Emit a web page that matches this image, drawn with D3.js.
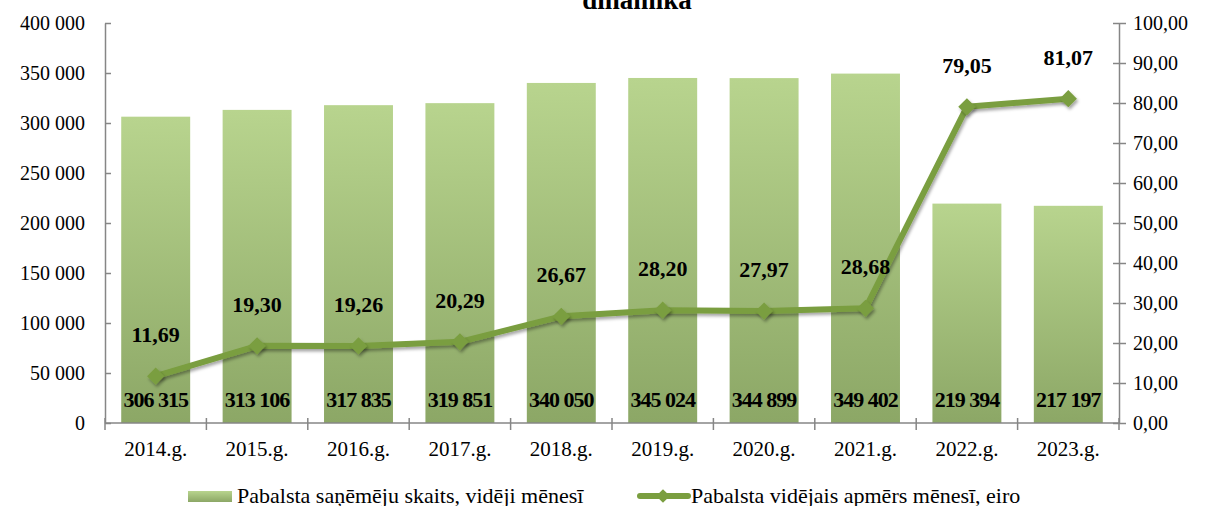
<!DOCTYPE html>
<html>
<head>
<meta charset="utf-8">
<script src="https://cdn.jsdelivr.net/npm/d3@7"></script>
<style>
  body { margin: 0; background: #fff; }
  svg text { font-family: "Liberation Serif", "DejaVu Serif", serif; fill: #000; }
</style>
</head>
<body>
<div id="chart"></div>
<script>
// Chart data
const years = ['2014.g.', '2015.g.', '2016.g.', '2017.g.', '2018.g.', '2019.g.', '2020.g.', '2021.g.', '2022.g.', '2023.g.'];
const recipients = [306315, 313106, 317835, 319851, 340050, 345024, 344899, 349402, 219394, 217197];
const avgAmount = [11.69, 19.30, 19.26, 20.29, 26.67, 28.20, 27.97, 28.68, 79.05, 81.07];
const leftTicks = [0, 50000, 100000, 150000, 200000, 250000, 300000, 350000, 400000];
const rightTicks = [0, 10, 20, 30, 40, 50, 60, 70, 80, 90, 100];
const barLegend = 'Pabalsta saņēmēju skaits, vidēji mēnesī';
const lineLegend = 'Pabalsta vidējais apmērs mēnesī, eiro';
const titleTail = 'dinamika';

const W = 1205, H = 506;
const plot = { left: 105, right: 1119, top: 23, bottom: 423 };
const serif = '"Liberation Serif", "DejaVu Serif", serif';
const axisColor = '#868686';
const lineColor = '#7a9e3f';

const fmtThousands = v => d3.format(',')(v).replace(/,/g, ' ');
const fmtComma = v => v.toFixed(2).replace('.', ',');

const svg = d3.select('#chart').append('svg')
    .attr('width', W)
    .attr('height', H);

const defs = svg.append('defs');
const grad = defs.append('linearGradient')
    .attr('id', 'barGrad')
    .attr('x1', 0).attr('y1', 0).attr('x2', 0).attr('y2', 1);
grad.append('stop').attr('offset', '0%').attr('stop-color', '#b8d48e');
grad.append('stop').attr('offset', '100%').attr('stop-color', '#8ca766');

const shadow = defs.append('filter')
    .attr('id', 'shadow')
    .attr('x', '-50%').attr('y', '-50%').attr('width', '200%').attr('height', '200%');
shadow.append('feDropShadow')
    .attr('dx', 1.5).attr('dy', 2.5).attr('stdDeviation', 1.6)
    .attr('flood-color', '#000').attr('flood-opacity', 0.35);

// Scales
const x = d3.scaleBand()
    .domain(years)
    .range([plot.left, plot.right])
    .paddingInner(0.32)
    .paddingOuter(0.16);
const yLeft = d3.scaleLinear().domain([0, 400000]).range([plot.bottom, plot.top]);
const yRight = d3.scaleLinear().domain([0, 100]).range([plot.bottom, plot.top]);

// Title (only the tail of it is visible)
svg.append('text')
    .attr('x', 637)
    .attr('y', 9)
    .attr('text-anchor', 'middle')
    .style('font-family', serif)
    .style('font-size', '27px')
    .style('font-weight', 'bold')
    .text(titleTail);

// Bars
svg.append('g').selectAll('rect')
    .data(recipients)
    .enter()
    .append('rect')
    .attr('x', (d, i) => x(years[i]))
    .attr('y', d => yLeft(d))
    .attr('width', x.bandwidth())
    .attr('height', d => yLeft(0) - yLeft(d))
    .attr('fill', 'url(#barGrad)');

// Axes
function styleAxis(g) {
    g.select('.domain').attr('stroke', axisColor).attr('stroke-width', 1.5);
    g.selectAll('.tick line').attr('stroke', axisColor).attr('stroke-width', 1.5);
    g.selectAll('.tick text')
        .style('font-family', serif)
        .style('font-size', '20px')
        .attr('fill', '#000');
}

const leftAxis = svg.append('g')
    .attr('transform', `translate(${plot.left},0)`)
    .call(d3.axisLeft(yLeft).tickValues(leftTicks).tickFormat(fmtThousands)
        .tickSizeInner(7).tickSizeOuter(0));
leftAxis.attr('font-family', null).attr('font-size', null);
leftAxis.selectAll('.tick line').attr('x2', 6);
styleAxis(leftAxis);
leftAxis.selectAll('.tick text').attr('x', -20).attr('dy', '0.32em');

const rightAxis = svg.append('g')
    .attr('transform', `translate(${plot.right},0)`)
    .call(d3.axisRight(yRight).tickValues(rightTicks).tickFormat(fmtComma)
        .tickSizeInner(7).tickSizeOuter(0));
rightAxis.attr('font-family', null).attr('font-size', null);
rightAxis.selectAll('.tick line').attr('x1', -6);
styleAxis(rightAxis);
rightAxis.selectAll('.tick text').attr('x', 14).attr('dy', '0.32em');

// Bottom axis with ticks at category boundaries
const bottom = svg.append('g');
bottom.append('line')
    .attr('x1', plot.left).attr('x2', plot.right)
    .attr('y1', plot.bottom).attr('y2', plot.bottom)
    .attr('stroke', axisColor).attr('stroke-width', 1.5);
const step = x.step();
const boundaries = d3.range(years.length + 1).map(i => x(years[0]) - x.paddingOuter() * step + i * step);
bottom.selectAll('.xtick')
    .data(boundaries)
    .enter()
    .append('line')
    .attr('class', 'xtick')
    .attr('x1', d => d).attr('x2', d => d)
    .attr('y1', plot.bottom - 5).attr('y2', plot.bottom + 7)
    .attr('stroke', axisColor).attr('stroke-width', 1.5);
bottom.selectAll('.xlabel')
    .data(years)
    .enter()
    .append('text')
    .attr('class', 'xlabel')
    .attr('x', d => x(d) + x.bandwidth() / 2)
    .attr('y', 456)
    .attr('text-anchor', 'middle')
    .style('font-family', serif)
    .style('font-size', '21px')
    .text(d => d);

// Bar value labels
svg.append('g').selectAll('text')
    .data(recipients)
    .enter()
    .append('text')
    .attr('x', (d, i) => x(years[i]) + x.bandwidth() / 2)
    .attr('y', 407)
    .attr('text-anchor', 'middle')
    .style('font-family', serif)
    .style('font-size', '22px')
    .style('font-weight', 'bold')
    .style('letter-spacing', '-1px')
    .text(d => fmtThousands(d));

// Line series
const cx = (d, i) => x(years[i]) + x.bandwidth() / 2;
const line = d3.line()
    .x((d, i) => cx(d, i))
    .y(d => yRight(d));

svg.append('path')
    .datum(avgAmount)
    .attr('d', line)
    .attr('fill', 'none')
    .attr('stroke', lineColor)
    .attr('stroke-width', 6)
    .attr('stroke-linejoin', 'round')
    .attr('filter', 'url(#shadow)');

const diamond = d3.symbol().type(d3.symbolDiamond2).size(190);
svg.append('g').selectAll('path')
    .data(avgAmount)
    .enter()
    .append('path')
    .attr('d', diamond)
    .attr('transform', (d, i) => `translate(${cx(d, i)},${yRight(d)})`)
    .attr('fill', lineColor)
    .attr('filter', 'url(#shadow)');

svg.append('g').selectAll('text')
    .data(avgAmount)
    .enter()
    .append('text')
    .attr('x', (d, i) => cx(d, i))
    .attr('y', d => yRight(d) - 34)
    .attr('text-anchor', 'middle')
    .style('font-family', serif)
    .style('font-size', '22px')
    .style('font-weight', 'bold')
    .text(d => fmtComma(d));

// Legend
const legend = svg.append('g');
legend.append('rect')
    .attr('x', 188).attr('y', 491)
    .attr('width', 44).attr('height', 11)
    .attr('fill', 'url(#barGrad)');
legend.append('text')
    .attr('x', 237).attr('y', 503)
    .style('font-family', serif)
    .style('font-size', '22px')
    .text(barLegend);

legend.append('line')
    .attr('x1', 640).attr('x2', 688)
    .attr('y1', 496).attr('y2', 496)
    .attr('stroke', lineColor).attr('stroke-width', 6)
    .attr('stroke-linecap', 'round');
legend.append('path')
    .attr('d', d3.symbol().type(d3.symbolDiamond2).size(120))
    .attr('transform', 'translate(663,496)')
    .attr('fill', lineColor);
legend.append('text')
    .attr('x', 691).attr('y', 503)
    .style('font-family', serif)
    .style('font-size', '22px')
    .text(lineLegend);
</script>
</body>
</html>
